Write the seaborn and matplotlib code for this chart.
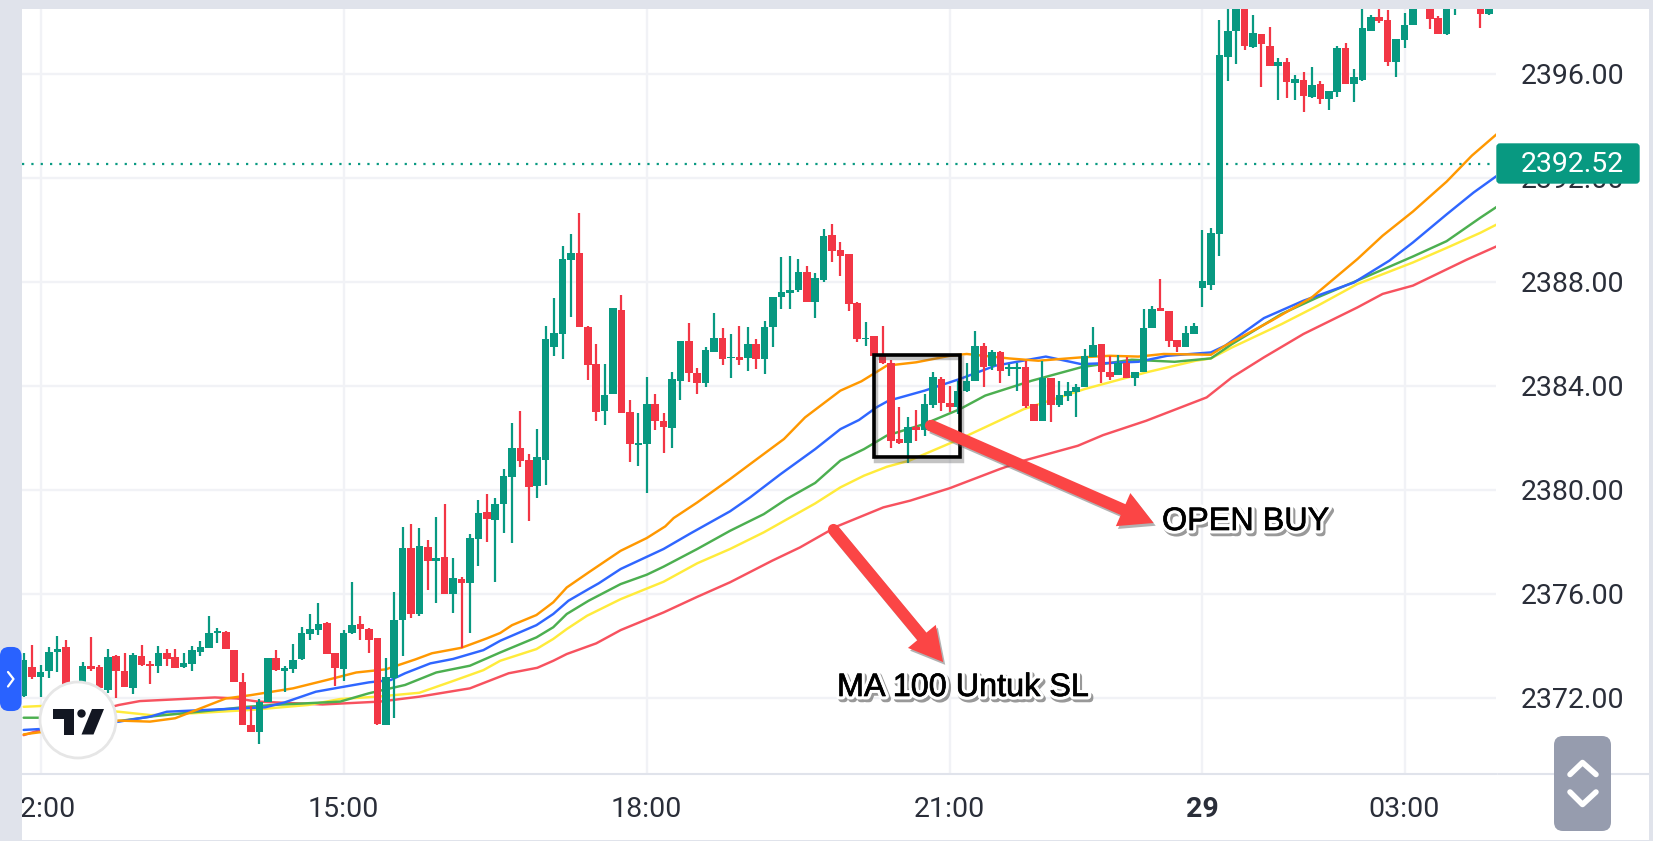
import numpy as np
import pandas as pd
import matplotlib
matplotlib.use("Agg")
import matplotlib.pyplot as plt
import matplotlib.patches as mpatches
import matplotlib.patheffects as pe
import seaborn as sns

# ---------- candles (5 minute bars, first bar two bars before the 12:00 line) ----------
highs = [
 2373.71,2374.03,2373.26,2373.96,2374.37,2374.22,2372.60,2373.36,2374.35,2373.26,
 2373.87,2373.64,2373.73,2373.73,2374.03,2373.42,2373.99,2373.87,2373.87,2373.73,
 2373.99,2374.19,2375.15,2374.67,2374.58,2373.83,2372.96,2371.69,2371.95,2373.51,
 2373.83,2373.23,2374.06,2374.71,2375.21,2375.63,2374.92,2373.73,2374.60,2376.46,
 2375.15,2374.67,2374.28,2373.51,2376.08,2378.58,2378.68,2378.54,2378.06,2378.94,
 2379.45,2377.38,2376.63,2378.29,2379.60,2379.83,2379.67,2380.79,2382.56,2383.04,
 2381.37,2382.33,2386.31,2387.36,2389.38,2389.83,2390.63,2386.31,2385.60,2384.83,
 2386.99,2387.49,2383.45,2382.94,2384.32,2383.68,2382.94,2384.54,2385.73,2386.40,
 2384.68,2385.47,2386.79,2386.21,2385.99,2386.31,2386.27,2385.79,2386.47,2387.40,
 2388.96,2389.00,2388.87,2388.59,2388.32,2390.03,2390.22,2389.51,2389.06,2387.21,
 2386.44,2385.92,2386.31,2385.00,2383.17,2382.78,2383.06,2383.68,2384.54,2384.32,
 2384.00,2384.19,2384.86,2386.12,2385.64,2385.37,2385.32,2384.83,2384.86,2384.96,
 2383.29,2384.96,2384.28,2384.17,2384.13,2384.06,2385.41,2386.24,2385.60,2385.15,
 2385.19,2385.09,2384.54,2386.95,2387.08,2388.10,2386.88,2385.77,2386.28,2386.40,
 2389.99,2390.06,2398.08,2399.20,2399.60,2399.60,2398.27,2397.52,2397.79,2396.59,
 2396.59,2395.95,2396.08,2396.27,2395.72,2395.34,2397.07,2397.20,2396.17,2398.80,
 2398.25,2398.90,2398.44,2397.33,2398.34,2399.20,2399.60,2399.50,2398.21,2399.40,
 2399.50,2400.20,2400.20,2399.60,2399.30]
body_tops = [
 2373.45,2373.19,2373.00,2373.77,2373.87,2373.94,2372.49,2373.23,2373.23,2373.19,
 2373.55,2373.62,2373.04,2373.64,2373.60,2373.28,2373.71,2373.71,2373.55,2373.32,
 2373.83,2373.96,2374.47,2374.58,2374.53,2373.83,2372.62,2370.95,2371.82,2373.51,
 2373.51,2373.13,2373.45,2374.47,2374.65,2374.83,2374.86,2373.71,2374.47,2374.79,
 2374.83,2374.65,2374.28,2372.81,2374.99,2377.74,2377.74,2377.83,2377.79,2377.38,
 2377.42,2376.59,2376.55,2378.13,2379.09,2379.13,2379.45,2380.54,2381.60,2381.60,
 2381.14,2381.27,2385.79,2386.01,2388.87,2389.10,2389.10,2386.27,2384.83,2383.65,
 2386.99,2386.92,2382.97,2381.78,2383.29,2383.29,2382.65,2384.26,2385.73,2385.73,
 2384.49,2385.37,2385.83,2385.83,2385.12,2385.09,2385.60,2385.60,2386.27,2387.40,
 2387.62,2387.68,2388.36,2388.36,2388.13,2389.74,2389.79,2389.23,2389.06,2387.17,
 2385.85,2385.90,2385.15,2384.87,2381.95,2382.42,2382.42,2383.29,2384.32,2384.26,
 2383.33,2383.81,2384.19,2385.51,2385.51,2385.31,2385.31,2384.71,2384.71,2384.73,
 2383.29,2384.28,2384.28,2383.65,2383.81,2383.94,2385.15,2385.56,2385.60,2384.54,
 2384.86,2384.87,2384.54,2386.21,2386.95,2386.97,2386.88,2385.77,2386.01,2386.28,
 2388.04,2389.86,2396.72,2397.66,2399.20,2399.20,2397.56,2397.52,2397.08,2396.44,
 2396.45,2395.78,2395.75,2395.56,2395.59,2395.34,2396.98,2396.98,2395.88,2397.75,
 2398.18,2398.17,2398.08,2397.33,2397.88,2398.60,2399.20,2399.00,2398.13,2398.90,
 2399.40,2400.00,2400.00,2399.00,2398.60]
body_bottoms = [
 2372.08,2372.81,2372.81,2373.04,2373.74,2372.42,2371.91,2372.55,2373.09,2372.36,
 2372.29,2373.03,2372.42,2372.36,2373.26,2373.23,2373.23,2373.49,2373.15,2373.17,
 2373.29,2373.77,2373.90,2374.47,2373.86,2372.62,2370.95,2370.67,2370.67,2371.82,
 2373.06,2373.03,2373.10,2373.47,2374.45,2374.60,2373.67,2373.15,2373.10,2374.47,
 2374.63,2374.22,2370.97,2370.95,2372.77,2374.99,2375.21,2375.21,2377.27,2377.26,
 2375.97,2375.97,2376.40,2376.40,2378.09,2378.87,2378.83,2379.45,2380.47,2381.09,
 2380.09,2380.13,2381.14,2385.47,2385.99,2388.85,2386.27,2384.79,2382.97,2383.04,
 2383.68,2382.95,2381.76,2381.73,2381.76,2382.63,2382.40,2382.36,2384.19,2384.47,
 2384.10,2384.09,2385.29,2385.03,2385.06,2385.00,2385.06,2385.03,2385.03,2386.27,
 2387.42,2387.56,2387.69,2387.23,2387.23,2388.06,2389.19,2388.99,2387.14,2385.79,
 2385.79,2385.15,2384.86,2381.88,2381.78,2381.79,2382.31,2382.31,2383.27,2383.32,
 2383.17,2383.17,2383.78,2384.19,2384.71,2384.74,2384.58,2384.65,2384.65,2383.21,
 2382.63,2382.63,2383.26,2383.26,2383.62,2383.74,2383.96,2385.12,2384.51,2384.35,
 2384.42,2384.28,2384.28,2384.51,2386.22,2386.86,2385.71,2385.47,2385.47,2385.99,
 2387.74,2387.87,2389.85,2396.66,2397.63,2397.07,2397.01,2397.14,2396.30,2396.30,
 2395.69,2395.65,2395.14,2395.11,2395.02,2395.03,2395.30,2395.60,2395.59,2395.75,
 2397.66,2398.01,2396.46,2396.46,2397.30,2397.86,2398.70,2398.10,2397.54,2397.52,
 2398.80,2399.50,2399.50,2398.31,2398.31]
lows = [
 2372.04,2372.71,2372.01,2372.74,2373.00,2372.23,2371.80,2372.29,2373.04,2372.29,
 2372.17,2371.97,2372.40,2372.14,2373.23,2372.51,2372.94,2373.23,2373.15,2373.15,
 2373.03,2373.62,2373.90,2374.09,2373.86,2372.62,2370.95,2370.67,2370.22,2371.82,
 2373.03,2372.23,2372.94,2373.45,2374.22,2374.41,2373.67,2372.46,2372.64,2374.45,
 2374.22,2373.71,2370.95,2370.95,2371.23,2373.62,2375.05,2375.14,2376.14,2375.65,
 2375.97,2375.27,2373.92,2374.50,2377.08,2378.00,2376.44,2378.32,2377.94,2380.86,
 2378.81,2379.68,2380.18,2385.15,2385.03,2386.63,2386.27,2384.23,2382.65,2382.49,
 2383.68,2382.95,2381.05,2380.92,2379.86,2382.29,2381.41,2381.60,2383.45,2384.15,
 2383.68,2383.94,2385.29,2384.79,2384.28,2384.79,2384.55,2384.64,2384.45,2385.47,
 2386.95,2386.95,2387.59,2387.23,2386.59,2387.97,2388.74,2388.23,2386.86,2385.67,
 2385.51,2385.13,2384.83,2381.60,2381.76,2381.01,2381.88,2382.08,2383.13,2383.04,
 2382.97,2382.91,2383.77,2384.19,2383.96,2384.60,2384.09,2384.36,2383.81,2383.14,
 2382.63,2382.63,2382.59,2383.19,2383.42,2382.81,2383.96,2385.12,2384.09,2384.22,
 2384.42,2384.28,2384.00,2384.51,2386.22,2386.86,2385.47,2385.28,2385.47,2385.99,
 2387.04,2387.69,2388.98,2395.72,2396.37,2396.92,2396.97,2395.50,2396.30,2394.98,
 2395.07,2394.98,2394.52,2395.08,2394.85,2394.62,2395.11,2395.59,2394.90,2395.72,
 2397.63,2397.95,2396.30,2395.87,2396.98,2397.86,2398.60,2397.72,2397.54,2397.50,
 2398.27,2399.30,2399.30,2397.75,2398.25]
sides = ("grgggrrgrr" "grrgrrgrrg" "ggggrrrrgg" "rgggggrrgg" "rrrgggrgrg"
         "rgrggrgggr" "rgggggrrrg" "grrggrrggr" "rggrgrgrgg" "gggrggrrrr"
         "grrrrgrggr" "rgggrgrggr" "rgrgggggrr" "grgggrrrgg" "gggggrgrrg"
         "rgrgrggrgg" "grrggggrrg" "gggrg")

# ---------- moving averages: (bar position, price) ----------
orange_x = [-2,3,9.3,13,16,19,22,25,30,34,37.5,41,44.5,46.5,50,53,54.6,56,58.9,60.9,62.5,65.1,68.9,72,74.2,75.2,78,81.9,84.3,88.3,90.8,95,97.5,100.5,104,108,110,115,118.5,123.6,127,130.4,133.4,139,140.7,146.2,151,156.4,159.4,163,167,170,173]
orange_y = [2370.59,2370.8,2371.12,2371.08,2371.21,2371.59,2371.97,2372.10,2372.36,2372.68,2372.97,2373.09,2373.47,2373.71,2373.92,2374.28,2374.49,2374.79,2375.18,2375.67,2376.24,2376.82,2377.65,2378.14,2378.59,2378.91,2379.51,2380.41,2380.99,2381.95,2382.78,2383.81,2384.17,2384.77,2384.90,2385.15,2385.22,2385.05,2384.96,2385.09,2385.15,2385.12,2385.22,2385.19,2385.54,2386.50,2387.40,2388.87,2389.77,2390.70,2391.85,2392.85,2393.69]
blue_x = [-2,3,9.3,13,15,21,26.7,29,32.7,36,39,41.6,43.3,46.3,49,52.6,54.6,58.9,60.9,62.7,65.1,66.3,68.9,74,77.2,81.9,84.3,87.9,92,95,97.2,99.3,100.7,105,109.2,113.4,119.4,123.6,130.4,133.8,139,140.7,145.3,150,156,160.2,163,167,170.2,173]
blue_y = [2370.76,2370.85,2371.08,2371.27,2371.46,2371.55,2371.63,2371.82,2372.23,2372.42,2372.59,2372.68,2372.94,2373.32,2373.49,2373.83,2374.19,2374.79,2375.22,2375.73,2376.18,2376.40,2376.95,2377.72,2378.32,2379.17,2379.71,2380.60,2381.56,2382.33,2382.68,2383.17,2383.42,2383.81,2384.26,2384.77,2385.12,2384.83,2384.92,2385.15,2385.28,2385.54,2386.60,2387.27,2387.97,2388.81,2389.51,2390.59,2391.43,2392.08]
green_x = [-2,0,9.3,13.5,21.6,24.5,27.6,35.6,39,43.3,47,51,54.6,58.9,60.9,62.5,65.1,68.9,72,74,78,81.9,85.9,88.6,92,95,97.8,100.5,105,109.2,112.2,117.7,123.6,129.6,134.7,139,141.5,147.4,151.7,156.8,163,167,171,173]
green_y = [2371.23,2371.23,2371.10,2371.29,2371.55,2371.65,2371.72,2371.85,2372.17,2372.49,2372.97,2373.23,2373.74,2374.32,2374.71,2375.22,2375.73,2376.37,2376.73,2377.04,2377.72,2378.42,2379.06,2379.64,2380.26,2381.12,2381.56,2382.08,2382.53,2383.10,2383.62,2384.19,2384.71,2385.00,2384.92,2385.05,2385.60,2386.76,2387.40,2388.10,2388.97,2389.56,2390.46,2390.89]
yellow_x = [-2,0,9.3,13.1,18,25,31.8,35.6,40,45,48.8,52.6,54.6,58.9,60.9,62.5,64.9,68.9,74,78,81.9,85.9,92,95,97.8,100.5,103.2,109.2,116.8,124,131.3,137.2,139,141.5,147.4,151.7,156.4,163,167,171,173]
yellow_y = [2371.65,2371.68,2371.46,2371.33,2371.40,2371.53,2371.72,2371.95,2372.04,2372.19,2372.62,2373.06,2373.42,2373.87,2374.26,2374.64,2375.15,2375.79,2376.46,2377.17,2377.72,2378.36,2379.47,2380.09,2380.54,2380.88,2381.12,2381.95,2383.10,2383.87,2384.51,2384.96,2385.05,2385.47,2386.37,2387.08,2387.91,2388.74,2389.30,2389.88,2390.21]
red_x = [-2,0,4,9.3,11.8,20.7,23.3,25.8,33.5,40.3,45,51,55.6,59,60.9,62.5,66,68.9,74,78,81.9,86.9,90.2,94.6,100.1,103.3,108,113.9,116.8,123.2,126.2,131.3,138.5,141.5,145.3,150,156.4,159.4,163,169.4,173]
red_y = [2370.56,2370.76,2371.27,2371.72,2371.87,2372.01,2371.97,2371.85,2371.74,2371.85,2372.04,2372.36,2372.94,2373.15,2373.42,2373.68,2374.09,2374.60,2375.28,2375.88,2376.44,2377.27,2377.78,2378.59,2379.32,2379.58,2380.06,2380.79,2381.12,2381.69,2382.10,2382.65,2383.55,2384.32,2385.09,2385.99,2387.01,2387.53,2387.85,2388.85,2389.37]

y_ticks = [2372, 2376, 2380, 2384, 2388, 2392, 2396]
x_tick_pos = [0, 36, 72, 108, 138, 162]
x_tick_labels = ["12:00", "15:00", "18:00", "21:00", "29", "03:00"]
last_price = 2392.52

UP, DOWN = "#089981", "#f23645"
GRID, STRIP, INK = "#f1f2f6", "#e0e3eb", "#2a2e39"
ARROW = "#fb4545"

sns.set_theme(style="white")
plt.rcParams["font.family"] = ["Roboto", "DejaVu Sans"]

W, H = 1653, 841
fig = plt.figure(figsize=(W / 100, H / 100), dpi=100, facecolor="white")
L, R, T, B = 22, 1496, 9, 774
ax = fig.add_axes([L / W, 1 - B / H, (R - L) / W, (B - T) / H], zorder=1)
ax.set_facecolor("white")

# moving averages through seaborn
ma_series = [(red_x, red_y, "#f7525f"), (yellow_x, yellow_y, "#ffeb3b"),
             (green_x, green_y, "#4caf50"), (blue_x, blue_y, "#2f66ff"),
             (orange_x, orange_y, "#ff9800")]
for xs, ys, col in ma_series:
    sns.lineplot(data=pd.DataFrame({"bar": xs, "price": ys}), x="bar", y="price",
                 color=col, lw=1.75, ax=ax, zorder=3, errorbar=None)

# candles
bars = np.arange(len(highs)) - 2
colors = [UP if s == "g" else DOWN for s in sides]
ax.vlines(bars, lows, highs, colors=colors, lw=1.6, zorder=4)
ax.bar(bars, np.array(body_tops) - np.array(body_bottoms), bottom=body_bottoms,
       width=0.9, color=colors, linewidth=0, zorder=4)

ax.axhline(last_price, color=UP, lw=1.6, ls=(0, (1, 3.2)), zorder=5)

ax.set_xlim((L - 40.5) / 8.42, (R - 40.5) / 8.42)
ax.set_ylim(2396 - (B - 73.7) / 26, 2396 + (73.7 - T) / 26)
ax.set_xlabel("")
ax.set_ylabel("")
ax.set_xticks(x_tick_pos)
ax.set_xticklabels(x_tick_labels)
ax.set_yticks(y_ticks)
ax.set_yticklabels([f"{v:.2f}" for v in y_ticks])
ax.yaxis.tick_right()
ax.tick_params(axis="x", length=0, labelsize=20.5, labelcolor=INK, pad=16)
ax.tick_params(axis="y", length=0, labelsize=20.5, labelcolor=INK, pad=18)
ax.xaxis.get_major_ticks()[4].label1.set_fontweight("bold")
ax.grid(True, color=GRID, lw=1.7, zorder=0)
ax.set_axisbelow(True)
for name in ("top", "left", "right"):
    ax.spines[name].set_visible(False)
ax.spines["bottom"].set_color(STRIP)
ax.spines["bottom"].set_linewidth(1.5)

# annotations drawn by hand on the chart
box = mpatches.Rectangle((98.95, 2381.24), 10.25, 3.96, fill=False, ec="black", lw=2.6, zorder=6,
                         joinstyle="miter",
                         path_effects=[pe.Stroke(linewidth=3.2, foreground="#555555", alpha=0.35, offset=(1.5, -2.5)),
                                       pe.Normal()])
ax.add_patch(box)
shadow = [pe.SimplePatchShadow(offset=(1.5, -2), alpha=0.45, shadow_rgbFace="#555555"), pe.Normal()]
for start, tip in [((105.6, 2382.49), (132.2, 2378.72)), ((94.1, 2378.49), (107.2, 2373.37))]:
    arrow = mpatches.FancyArrowPatch(start, tip, arrowstyle="simple,head_length=24,head_width=26,tail_width=8.5",
                                     mutation_scale=1, color=ARROW, lw=0, shrinkA=0, shrinkB=0, zorder=7,
                                     path_effects=shadow, clip_on=False)
    ax.add_patch(arrow)
    ax.plot([start[0]], [start[1]], "o", ms=8, color=ARROW, mew=0, zorder=7)

# interface overlay in pixel coordinates
ui = fig.add_axes([0, 0, 1, 1], zorder=2)
ui.set_xlim(0, W)
ui.set_ylim(H, 0)
ui.axis("off")
ui.patch.set_alpha(0)
for x, y, w, h in [(0, 0, L, H), (0, 0, W, T), (1649, 0, 4, H), (0, 840, W, 1)]:
    ui.add_patch(mpatches.Rectangle((x, y), w, h, fc=STRIP, ec="none", zorder=1))
ui.plot([R + 2, 1649], [B, B], color=STRIP, lw=1.5, zorder=1)

# price tag
ui.add_patch(mpatches.FancyBboxPatch((R + 1, 144), 142, 39, boxstyle="round,pad=0,rounding_size=3",
                                     fc=UP, ec=UP, lw=1, zorder=3))
ui.text(1572, 164.5, f"{last_price:.2f}", color="white", fontsize=20.5, ha="center", va="center", zorder=4)

# side tab
ui.add_patch(mpatches.FancyBboxPatch((1, 648), 19.5, 62, boxstyle="round,pad=0,rounding_size=8",
                                     fc="#2962ff", ec="#2962ff", lw=1.5, zorder=3))
ui.plot([8, 13.5, 8], [672, 679, 686.5], color="white", lw=1.6, zorder=4)

# logo
ui.add_patch(mpatches.Circle((78, 720), 38, fc="white", ec="#e6e6e6", lw=2, zorder=5))
LOGO = "#131722"
ui.add_patch(mpatches.Polygon([(52.5, 709), (74, 709), (74, 734.5), (64, 734.5), (64, 718.5), (52.5, 718.5)],
                              fc=LOGO, ec="none", zorder=6))
ui.add_patch(mpatches.Circle((81.5, 713.5), 4.2, fc=LOGO, ec="none", zorder=6))
ui.add_patch(mpatches.Polygon([(92, 709), (104, 709), (93.5, 734.5), (81.5, 734.5)], fc=LOGO, ec="none", zorder=6))

# scale button
ui.add_patch(mpatches.FancyBboxPatch((1554, 736), 57, 95, boxstyle="round,pad=0,rounding_size=9",
                                     fc="#969cae", ec="none", zorder=3))
ui.plot([1570, 1582.5, 1596], [774.5, 762.5, 774.5], color="white", lw=4, solid_capstyle="round",
        solid_joinstyle="round", zorder=4)
ui.plot([1570, 1582.5, 1596], [792, 804.5, 792], color="white", lw=4, solid_capstyle="round",
        solid_joinstyle="round", zorder=4)

# hand written notes
note_fx = [pe.Stroke(linewidth=5, foreground="#555555", alpha=0.6, offset=(1.5, -2)),
           pe.Stroke(linewidth=5, foreground="white"),
           pe.Stroke(linewidth=0.5, foreground="black"), pe.Normal()]
for tx, ty, s in [(1162, 530, "OPEN BUY"), (837, 696, "MA 100 Untuk SL")]:
    ui.text(tx, ty, s, fontsize=23.3, family="Liberation Sans", color="black", ha="left", va="baseline",
            path_effects=note_fx, zorder=8)

fig.savefig("out.png", dpi=100, facecolor="white")
